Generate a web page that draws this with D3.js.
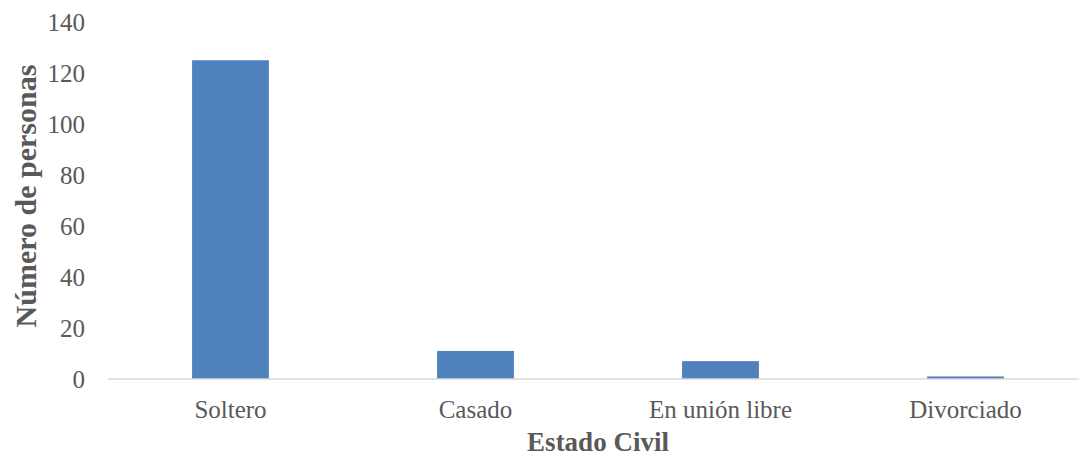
<!DOCTYPE html>
<html>
<head>
<meta charset="utf-8">
<script src="https://cdn.jsdelivr.net/npm/d3@7"></script>
<style>
  body { margin: 0; background: #fff; }
  text { font-family: "Liberation Serif", serif; fill: #595959; }
</style>
</head>
<body>
<svg width="1079" height="457"></svg>
<script>
const categories = ['Soltero', 'Casado', 'En unión libre', 'Divorciado'];
const values = [125, 11, 7, 1];
const yTicks = [0, 20, 40, 60, 80, 100, 120, 140];

const svg = d3.select('svg');
const margin = { top: 22, left: 108 };
const plotRight = 1088; // plot runs slightly past the right edge, like the original
const plotBottom = 379;

const xScale = d3.scaleBand()
    .domain(categories)
    .range([margin.left, plotRight])
    .padding(0);

const yScale = d3.scaleLinear()
    .domain([0, 140])
    .range([plotBottom, margin.top]);

// bars: Excel gap width ~219%
const barW = xScale.bandwidth() / 3.19;

svg.selectAll('rect.bar').data(values)
    .enter().append('rect')
    .attr('class', 'bar')
    .attr('x', (d, i) => xScale(categories[i]) + (xScale.bandwidth() - barW) / 2)
    .attr('y', d => yScale(d))
    .attr('width', barW)
    .attr('height', d => yScale(0) - yScale(d))
    .attr('fill', '#4f81bd');

// baseline
svg.append('line')
    .attr('x1', margin.left).attr('x2', plotRight)
    .attr('y1', yScale(0)).attr('y2', yScale(0))
    .attr('stroke', '#d9d9d9').attr('stroke-width', 1.5);

// y tick labels
svg.selectAll('text.ytick').data(yTicks)
    .enter().append('text')
    .attr('class', 'ytick')
    .attr('x', 85)
    .attr('y', d => yScale(d))
    .attr('dy', '0.35em')
    .attr('text-anchor', 'end')
    .style('font-size', '25px')
    .text(d => d);

// x category labels
svg.selectAll('text.xtick').data(categories)
    .enter().append('text')
    .attr('class', 'xtick')
    .attr('x', d => xScale(d) + xScale.bandwidth() / 2)
    .attr('y', 418)
    .attr('text-anchor', 'middle')
    .style('font-size', '25px')
    .text(d => d);

// axis titles
svg.append('text')
    .attr('x', 598)
    .attr('y', 451)
    .attr('text-anchor', 'middle')
    .style('font-size', '27px')
    .style('font-weight', 'bold')
    .text('Estado Civil');

svg.append('text')
    .attr('transform', 'translate(36, 196) rotate(-90)')
    .attr('text-anchor', 'middle')
    .style('font-size', '30px')
    .style('font-weight', 'bold')
    .text('Número de personas');
</script>
</body>
</html>
